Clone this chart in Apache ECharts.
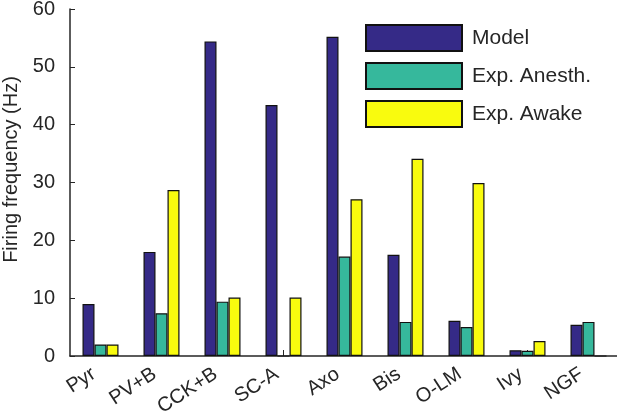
<!DOCTYPE html>
<html>
<head>
<meta charset="utf-8">
<script src="https://cdn.jsdelivr.net/npm/echarts@6/dist/echarts.min.js"></script>
<style>html,body{margin:0;padding:0;background:#fff;}#c{width:617px;height:419px;}</style>
</head>
<body>
<div id="c"></div>
<script>
const categories = ['Pyr', 'PV+B', 'CCK+B', 'SC-A', 'Axo', 'Bis', 'O-LM', 'Ivy', 'NGF'];
const model = [9.0, 18.0, 54.4, 43.4, 55.2, 17.5, 6.1, 1.0, 5.4];
const anesth = [2.0, 7.4, 9.4, 0, 17.2, 5.9, 5.0, 0.9, 5.9];
const awake = [2.0, 28.7, 10.1, 10.1, 27.1, 34.1, 29.9, 2.6, 0];
const yTicks = [0, 10, 20, 30, 40, 50, 60];

const txt = '#262626';
const font = 'Liberation Sans, Arial, sans-serif';
const chart = echarts.init(document.getElementById('c'));
const mk = (name, data, color) => ({
  name, type: 'bar', data, barWidth: 12, barGap: '0%',
  itemStyle: { color, borderColor: '#111', borderWidth: 1.2 },
  emphasis: { disabled: true }
});
chart.setOption({
  animation: false,
  textStyle: { fontFamily: font },
  grid: { left: 70, top: 9, width: 549, bottom: 63, containLabel: false, outerBoundsMode: 'none' },
  legend: {
    orient: 'vertical', left: 365, top: 24, itemWidth: 96, itemHeight: 26, itemGap: 10,
    icon: 'rect', padding: 0,
    textStyle: { fontSize: 21, color: txt, fontFamily: font, padding: [0, 0, 0, 5] },
    data: ['Model', 'Exp. Anesth.', 'Exp. Awake']
  },
  xAxis: {
    type: 'category', data: categories,
    axisLine: { lineStyle: { color: txt, width: 1.5 } },
    axisTick: { show: true, inside: true, alignWithLabel: true, length: 6, lineStyle: { color: txt } },
    axisLabel: { rotate: 33, fontSize: 20, color: txt, margin: 12, interval: 0, fontFamily: font, padding: [0, 8, 0, 0] }
  },
  yAxis: {
    type: 'value', min: yTicks[0], max: yTicks[yTicks.length - 1], interval: 10,
    name: 'Firing frequency (Hz)', nameLocation: 'middle', nameGap: 44,
    nameTextStyle: { fontSize: 20, color: txt, fontFamily: font, padding: [0, 0, 0, 26] },
    axisLine: { show: true, lineStyle: { color: txt, width: 1.5 } },
    axisTick: { show: true, inside: true, length: 5, lineStyle: { color: txt } },
    axisLabel: { fontSize: 20, color: txt, margin: 15, fontFamily: font },
    splitLine: { show: false }
  },
  series: [
    mk('Model', model, '#352a87'),
    mk('Exp. Anesth.', anesth, '#36b89c'),
    mk('Exp. Awake', awake, '#f9fb0e')
  ]
});
</script>
</body>
</html>
